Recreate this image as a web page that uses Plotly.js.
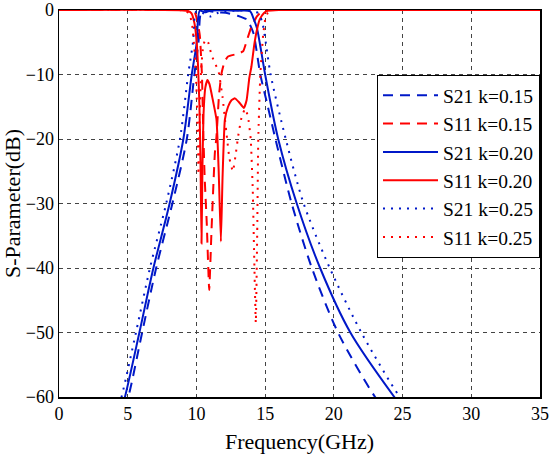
<!DOCTYPE html>
<html>
<head>
<meta charset="utf-8">
<script src="https://cdn.plot.ly/plotly-3.0.1.min.js"></script>
<style>html,body{margin:0;padding:0;background:#fff;}#chart{width:550px;height:461px;}</style>
</head>
<body>
<div id="chart"></div>
<script>
// S21, k = 0.15 (dashed blue)
var s21_015_f = [3.5, 5.05, 6.05, 7.07, 8.25, 9.3, 9.85, 10.15, 10.4, 11.0, 11.6, 12.3, 13.0, 13.5, 13.7, 13.9, 14.15, 14.65, 15.2, 15.75, 16.93, 18.4, 20.3, 23.0, 24.5];
var s21_015_db = [-72, -60, -50, -40, -30, -20, -10, -5, -0.1, -0.2, -0.35, -0.5, -0.9, -1.3, -1.5, -2.3, -3.6, -10, -15, -20, -30, -40, -50, -60, -64];
// S11, k = 0.15 (dashed red)
var s11_015_f = [0, 9.5, 9.9, 10.1, 10.25, 10.4, 10.5, 10.6, 10.75, 10.93, 11.1, 11.34, 11.46, 11.65, 11.83, 12.05, 12.3, 12.8, 13.1, 13.4, 13.7, 14.0, 14.4, 14.7, 15.0, 35];
var s11_015_db = [0, -0.1, -0.5, -2, -4, -10, -19, -26, -33, -43.4, -34, -22.2, -19.6, -13, -9.8, -8, -7.2, -6.9, -6.7, -6.4, -4.5, -2.6, -1.0, -0.3, -0.05, 0];
// S21, k = 0.20 (solid blue)
var s21_020_f = [3.3, 4.8, 5.85, 6.87, 8.05, 9.05, 9.66, 10.0, 10.25, 10.6, 11.0, 12.0, 13.0, 13.9, 14.15, 14.4, 14.6, 15.0, 15.95, 17.3, 19.0, 21.2, 24.4, 25.5];
var s21_020_db = [-72, -60, -50, -40, -30, -20, -10, -5.4, -0.1, -0.35, -0.1, -0.05, -0.1, -0.2, -1.3, -2.8, -5, -10, -20, -30, -40, -50, -60, -63];
// S11, k = 0.20 (solid red)
var s11_020_f = [0, 9.3, 9.63, 9.85, 10.0, 10.12, 10.22, 10.3, 10.37, 10.44, 10.52, 10.65, 10.8, 10.95, 11.15, 11.46, 11.62, 11.78, 11.9, 12.07, 12.3, 12.55, 12.8, 13.1, 13.45, 13.65, 13.85, 14.0, 14.2, 14.4, 14.6, 14.9, 15.2, 16, 35];
var s11_020_db = [0, -0.1, -0.5, -2, -4.5, -8.8, -15, -24, -36.2, -24, -16, -12, -10.85, -11.5, -13.5, -17, -25, -35.9, -26, -17, -15, -14, -13.7, -14.3, -15.2, -14, -10.5, -8.8, -5.5, -3.1, -1.5, -0.5, -0.1, 0, 0];
// S21, k = 0.25 (dotted blue)
var s21_025_f = [3.0, 4.55, 5.6, 6.62, 7.8, 8.8, 9.4, 9.75, 10.0, 10.5, 11.0, 11.5, 12.0, 13.0, 14.0, 14.5, 14.8, 15.0, 15.4, 16.5, 17.8, 19.7, 22.0, 24.8, 26];
var s21_025_db = [-72, -60, -50, -40, -30, -20, -10, -5, -0.2, -0.5, -1.0, -0.5, -0.2, -0.1, -0.1, -0.5, -2, -4.4, -10, -20, -30, -40, -50, -60, -63];
// S11, k = 0.25 (dotted red)
var s11_025_f = [0, 9.2, 9.5, 9.7, 9.85, 10.0, 10.1, 10.15, 10.22, 10.35, 10.5, 10.65, 10.85, 11.1, 11.4, 11.6, 11.9, 12.2, 12.4, 12.65, 12.85, 13.05, 13.3, 13.55, 13.75, 13.95, 14.1, 14.2, 14.32, 14.42, 14.5, 14.65, 14.85, 15.0, 15.2, 15.5, 35];
var s11_025_db = [0, -0.1, -0.6, -2.5, -6, -12, -20, -25.5, -18, -9, -5.5, -4.6, -5, -7, -8.5, -9.4, -13.5, -19.4, -23, -25, -22.5, -19.4, -16.5, -15.3, -16.5, -20, -28, -38, -48.5, -35, -20, -10, -4, -1.5, -0.4, 0, 0];

var legendNames = ['S21 k=0.15', 'S11 k=0.15', 'S21 k=0.20', 'S11 k=0.20', 'S21 k=0.25', 'S11 k=0.25'];

var BLUE = '#0018c8', RED = '#ff0000';
var DASH = '10px,7px', DOT = '2px,6px';
function tr(x, y, name, color, dash, smooth) {
  return {x: x, y: y, name: name, type: 'scatter', mode: 'lines',
          line: {color: color, width: 2, dash: dash, shape: 'spline', smoothing: smooth}};
}
var data = [
  tr(s21_015_f, s21_015_db, legendNames[0], BLUE, DASH, 0.8),
  tr(s11_015_f, s11_015_db, legendNames[1], RED, DASH, 0.4),
  tr(s21_020_f, s21_020_db, legendNames[2], BLUE, 'solid', 0.8),
  tr(s11_020_f, s11_020_db, legendNames[3], RED, 'solid', 0.4),
  tr(s21_025_f, s21_025_db, legendNames[4], BLUE, DOT, 0.8),
  tr(s11_025_f, s11_025_db, legendNames[5], RED, DOT, 0.4)
];
var FONT = 'Liberation Serif, Times New Roman, serif';
var layout = {
  width: 550, height: 461,
  margin: {l: 59, r: 10, t: 10, b: 64},
  paper_bgcolor: '#fff', plot_bgcolor: '#fff',
  font: {family: FONT, size: 18, color: '#000'},
  showlegend: true,
  legend: {x: 1, xanchor: 'right', y: 0.832, yanchor: 'top',
           bgcolor: '#fff', bordercolor: '#000', borderwidth: 1,
           itemwidth: 55, tracegroupgap: 0,
           font: {family: FONT, size: 19.5, color: '#000'}},
  xaxis: {range: [0, 35], dtick: 5, tick0: 0,
          showline: true, mirror: true, linecolor: '#000', linewidth: 1.5,
          showgrid: true, gridcolor: '#444', griddash: '4px,4px', gridwidth: 1,
          zeroline: false, ticks: '',
          title: {text: 'Frequency(GHz)', font: {family: FONT, size: 22}, standoff: 10}},
  yaxis: {range: [-60, 0], dtick: 10, tick0: 0,
          showline: true, mirror: true, linecolor: '#000', linewidth: 1.5,
          showgrid: true, gridcolor: '#444', griddash: '4px,4px', gridwidth: 1,
          zeroline: false, ticks: '',
          title: {text: 'S-Parameter(dB)', font: {family: FONT, size: 22}, standoff: 6}}
};
Plotly.newPlot('chart', data, layout, {displayModeBar: false, staticPlot: true});
</script>
</body>
</html>
